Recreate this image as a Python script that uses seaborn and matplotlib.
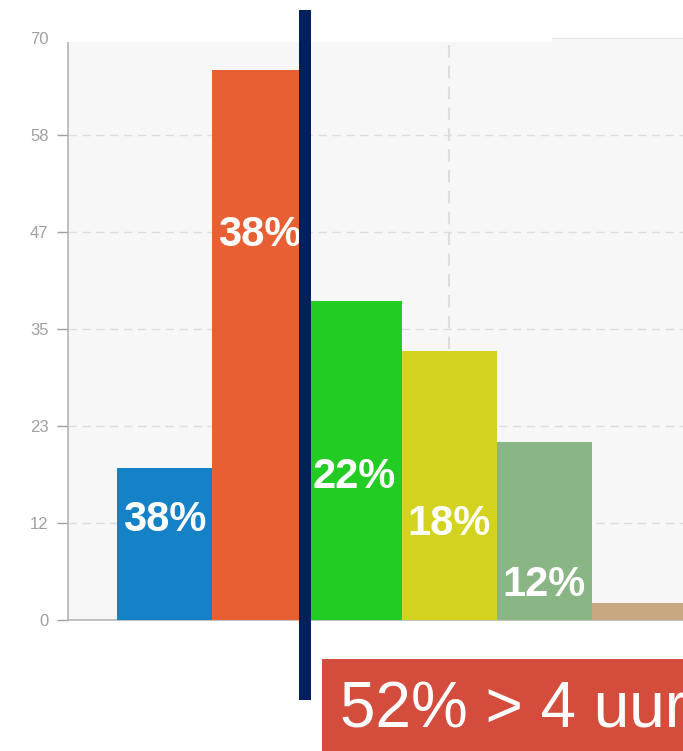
import numpy as np
import pandas as pd
import seaborn as sns
import matplotlib.pyplot as plt
from matplotlib.patches import Rectangle

# bar data
categories = ["a", "b", "c", "d", "e", "f"]
values = [18.3, 66.2, 38.4, 32.3, 21.4, 2.0]
bar_colors = ["#1582c8", "#e75f33", "#22cc22", "#d3d31f", "#8ab585", "#c8a880"]
pct_labels = ["38%", "38%", "22%", "18%", "12%"]
label_y = [12.0, 46.3, 17.2, 11.5, 4.2]
tick_values = [0, 70 / 6, 70 / 3, 35, 140 / 3, 350 / 6, 70]
tick_labels = ["0", "12", "23", "35", "47", "58", "70"]

df = pd.DataFrame({"cat": categories, "val": values})

sns.set_style("white")
plt.rcParams["font.family"] = ["Liberation Sans", "DejaVu Sans"]

fig = plt.figure(figsize=(6.83, 7.51), dpi=100)
ax = fig.add_axes([68 / 683, 131 / 751, 666 / 683, 582 / 751])
ax.set_facecolor("#f7f7f7")

sns.barplot(data=df, x="cat", y="val", hue="cat", palette=bar_colors,
            saturation=1, width=1.0, linewidth=0, legend=False, ax=ax, zorder=3)

ax.set_xlim(-1.016, 6.0)
ax.set_ylim(0, 70)
ax.set_yticks(tick_values)
ax.set_yticklabels(tick_labels)
ax.set_xticks([])
ax.set_xlabel("")
ax.set_ylabel("")
ax.tick_params(axis="y", colors="#a0a0a0", labelsize=12, length=8, width=1,
               direction="out", left=True, pad=6)

for y in tick_values[1:-1]:
    ax.axhline(y, color="#dddddd", lw=1, ls=(0, (6, 4)), zorder=1)
ax.axvline(3, color="#dddddd", lw=1.5, ls=(0, (6, 4)), zorder=1)

for s in ["left", "bottom"]:
    ax.spines[s].set_color("#b5b5b5")
    ax.spines[s].set_linewidth(1.2)
ax.spines["top"].set_color("#e4e4e4")
ax.spines["right"].set_visible(False)

for i, (txt, yy) in enumerate(zip(pct_labels, label_y)):
    ax.text(i, yy, txt, color="white", fontsize=30, fontweight="bold",
            ha="center", va="center", zorder=5)

# white patch over the top of the plot
fig.patches.append(Rectangle((50 / 683, 1 - 42 / 751), 502 / 683, 42 / 751,
                             transform=fig.transFigure, facecolor="white",
                             edgecolor="none", zorder=10))

# navy divider line
fig.patches.append(Rectangle((299 / 683, 1 - 700 / 751), 12 / 683, 690 / 751,
                             transform=fig.transFigure, facecolor="#03205c",
                             edgecolor="none", zorder=11))

# red callout box
fig.patches.append(Rectangle((322 / 683, 0), 400 / 683, 92 / 751,
                             transform=fig.transFigure, facecolor="#d44c3b",
                             edgecolor="none", zorder=11))
fig.text(340 / 683, 1 - 710 / 751, "52% > 4 uur", color="white", fontsize=46,
         ha="left", va="center", zorder=12)

fig.savefig("out.png", dpi=100)
